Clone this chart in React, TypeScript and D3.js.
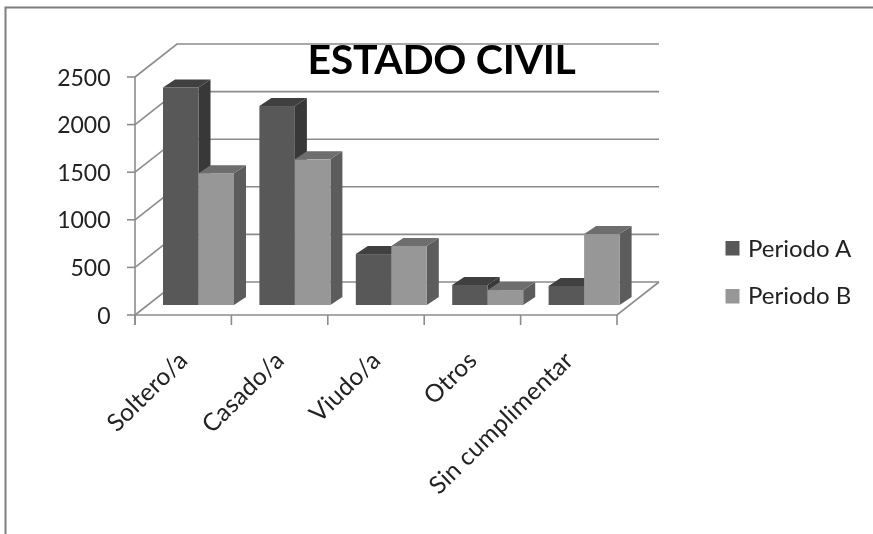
import React from 'react';
import * as d3 from 'd3';

const categories = ['Soltero/a', 'Casado/a', 'Viudo/a', 'Otros', 'Sin cumplimentar'];
const periodoA = [2285, 2090, 535, 210, 200];
const periodoB = [1385, 1530, 620, 157, 745];
const yTicks = [0, 500, 1000, 1500, 2000, 2500];
const seriesNames = ['Periodo A', 'Periodo B'];

const font = 'Lato, "Open Sans", sans-serif';
const fills = [
  { front: '#595959', top: '#3f3f3f', side: '#383838' },
  { front: '#979797', top: '#6e6e6e', side: '#5b5b5b' },
];

// oblique projection used by the fake 3D box
const depthX = 42;
const depthY = -33;
const barDepthX = 12;
const barDepthY = -8;

const x = d3.scaleBand<string>().domain(categories).range([135, 617]).paddingInner(0).paddingOuter(0);
const y = d3.scaleLinear().domain([0, 2500]).range([315, 77]);
const barWidth = 35.5;
const barOffsetX = 28;
const barOffsetY = -10;

const poly = (pts: [number, number][]) => (d3.line()(pts) as string) + 'Z';

function Bar({ left, value, colors }: { left: number; value: number; colors: typeof fills[0] }) {
  const bottom = y(0) + barOffsetY;
  const top = y(value) + barOffsetY;
  const right = left + barWidth;
  return (
    <g>
      <path d={poly([[right, top], [right + barDepthX, top + barDepthY], [right + barDepthX, bottom + barDepthY], [right, bottom]])} fill={colors.side} />
      <path d={poly([[left, top], [left + barDepthX, top + barDepthY], [right + barDepthX, top + barDepthY], [right, top]])} fill={colors.top} />
      <rect x={left} y={top} width={barWidth} height={bottom - top} fill={colors.front} />
    </g>
  );
}

export default function App() {
  const left = x.range()[0];
  const right = x.range()[1];
  const labelY = 362;

  return (
    <svg width={873} height={534} style={{ position: 'absolute', left: 0, top: 0, background: '#fff' }}>
      <defs>
        <filter id="soft" x="-5%" y="-5%" width="110%" height="110%">
          <feGaussianBlur stdDeviation="0.45" />
        </filter>
      </defs>
      <g filter="url(#soft)">
        {/* outer frame, only top and left are visible */}
        <path d="M5.5,534V7.5H873" fill="none" stroke="#7f7f7f" strokeWidth={2} />

        {/* gridlines on the side and back walls */}
        {yTicks.map(t => (
          <path
            key={t}
            d={`M${left},${y(t)}L${left + depthX},${y(t) + depthY}H${right + depthX}`}
            fill="none"
            stroke="#8c8c8c"
            strokeWidth={1.6}
          />
        ))}
        {/* floor */}
        <path d={`M${left},${y(0)}H${right}L${right + depthX},${y(0) + depthY}`} fill="none" stroke="#8c8c8c" strokeWidth={1.6} />
        {/* axes */}
        <path d={`M${left},${y(2500)}V${y(0) + 10}`} fill="none" stroke="#8c8c8c" strokeWidth={1.6} />
        {yTicks.map(t => (
          <line key={t} x1={left - 8} x2={left} y1={y(t)} y2={y(t)} stroke="#8c8c8c" strokeWidth={1.6} />
        ))}
        {[...categories.map(c => x(c) as number), right].map(px => (
          <line key={px} x1={px} x2={px} y1={y(0)} y2={y(0) + 10} stroke="#8c8c8c" strokeWidth={1.6} />
        ))}

        {categories.map((c, i) => {
          const bx = (x(c) as number) + barOffsetX;
          return (
            <g key={c}>
              <Bar left={bx} value={periodoA[i]} colors={fills[0]} />
              <Bar left={bx + barWidth} value={periodoB[i]} colors={fills[1]} />
            </g>
          );
        })}

        {/* y labels */}
        {yTicks.map(t => (
          <text key={t} x={left - 24.5} y={y(t) + 8.5} textAnchor="end" fontFamily={font} fontSize={23} fill="#222">
            {t}
          </text>
        ))}

        {/* category labels, rotated */}
        {categories.map(c => {
          const px = (x(c) as number) + x.bandwidth() / 2 + 6;
          return (
            <text
              key={c}
              transform={`translate(${px},${labelY}) rotate(-44.5)`}
              textAnchor="end"
              fontFamily={font}
              fontSize={24.5}
              letterSpacing={0.25}
              fill="#222"
            >
              {c}
            </text>
          );
        })}

        <text x={441.5} y={74} textAnchor="middle" fontFamily={font} fontWeight={700} fontSize={41} fill="#000" letterSpacing={-0.3}>
          ESTADO CIVIL
        </text>

        {seriesNames.map((s, i) => (
          <g key={s}>
            <rect x={725.5} y={241 + i * 48} width={14} height={14.5} fill={fills[i].front} />
            <text x={748} y={257 + i * 47} fontFamily={font} fontSize={24} fill="#222">
              {s}
            </text>
          </g>
        ))}
      </g>
    </svg>
  );
}
